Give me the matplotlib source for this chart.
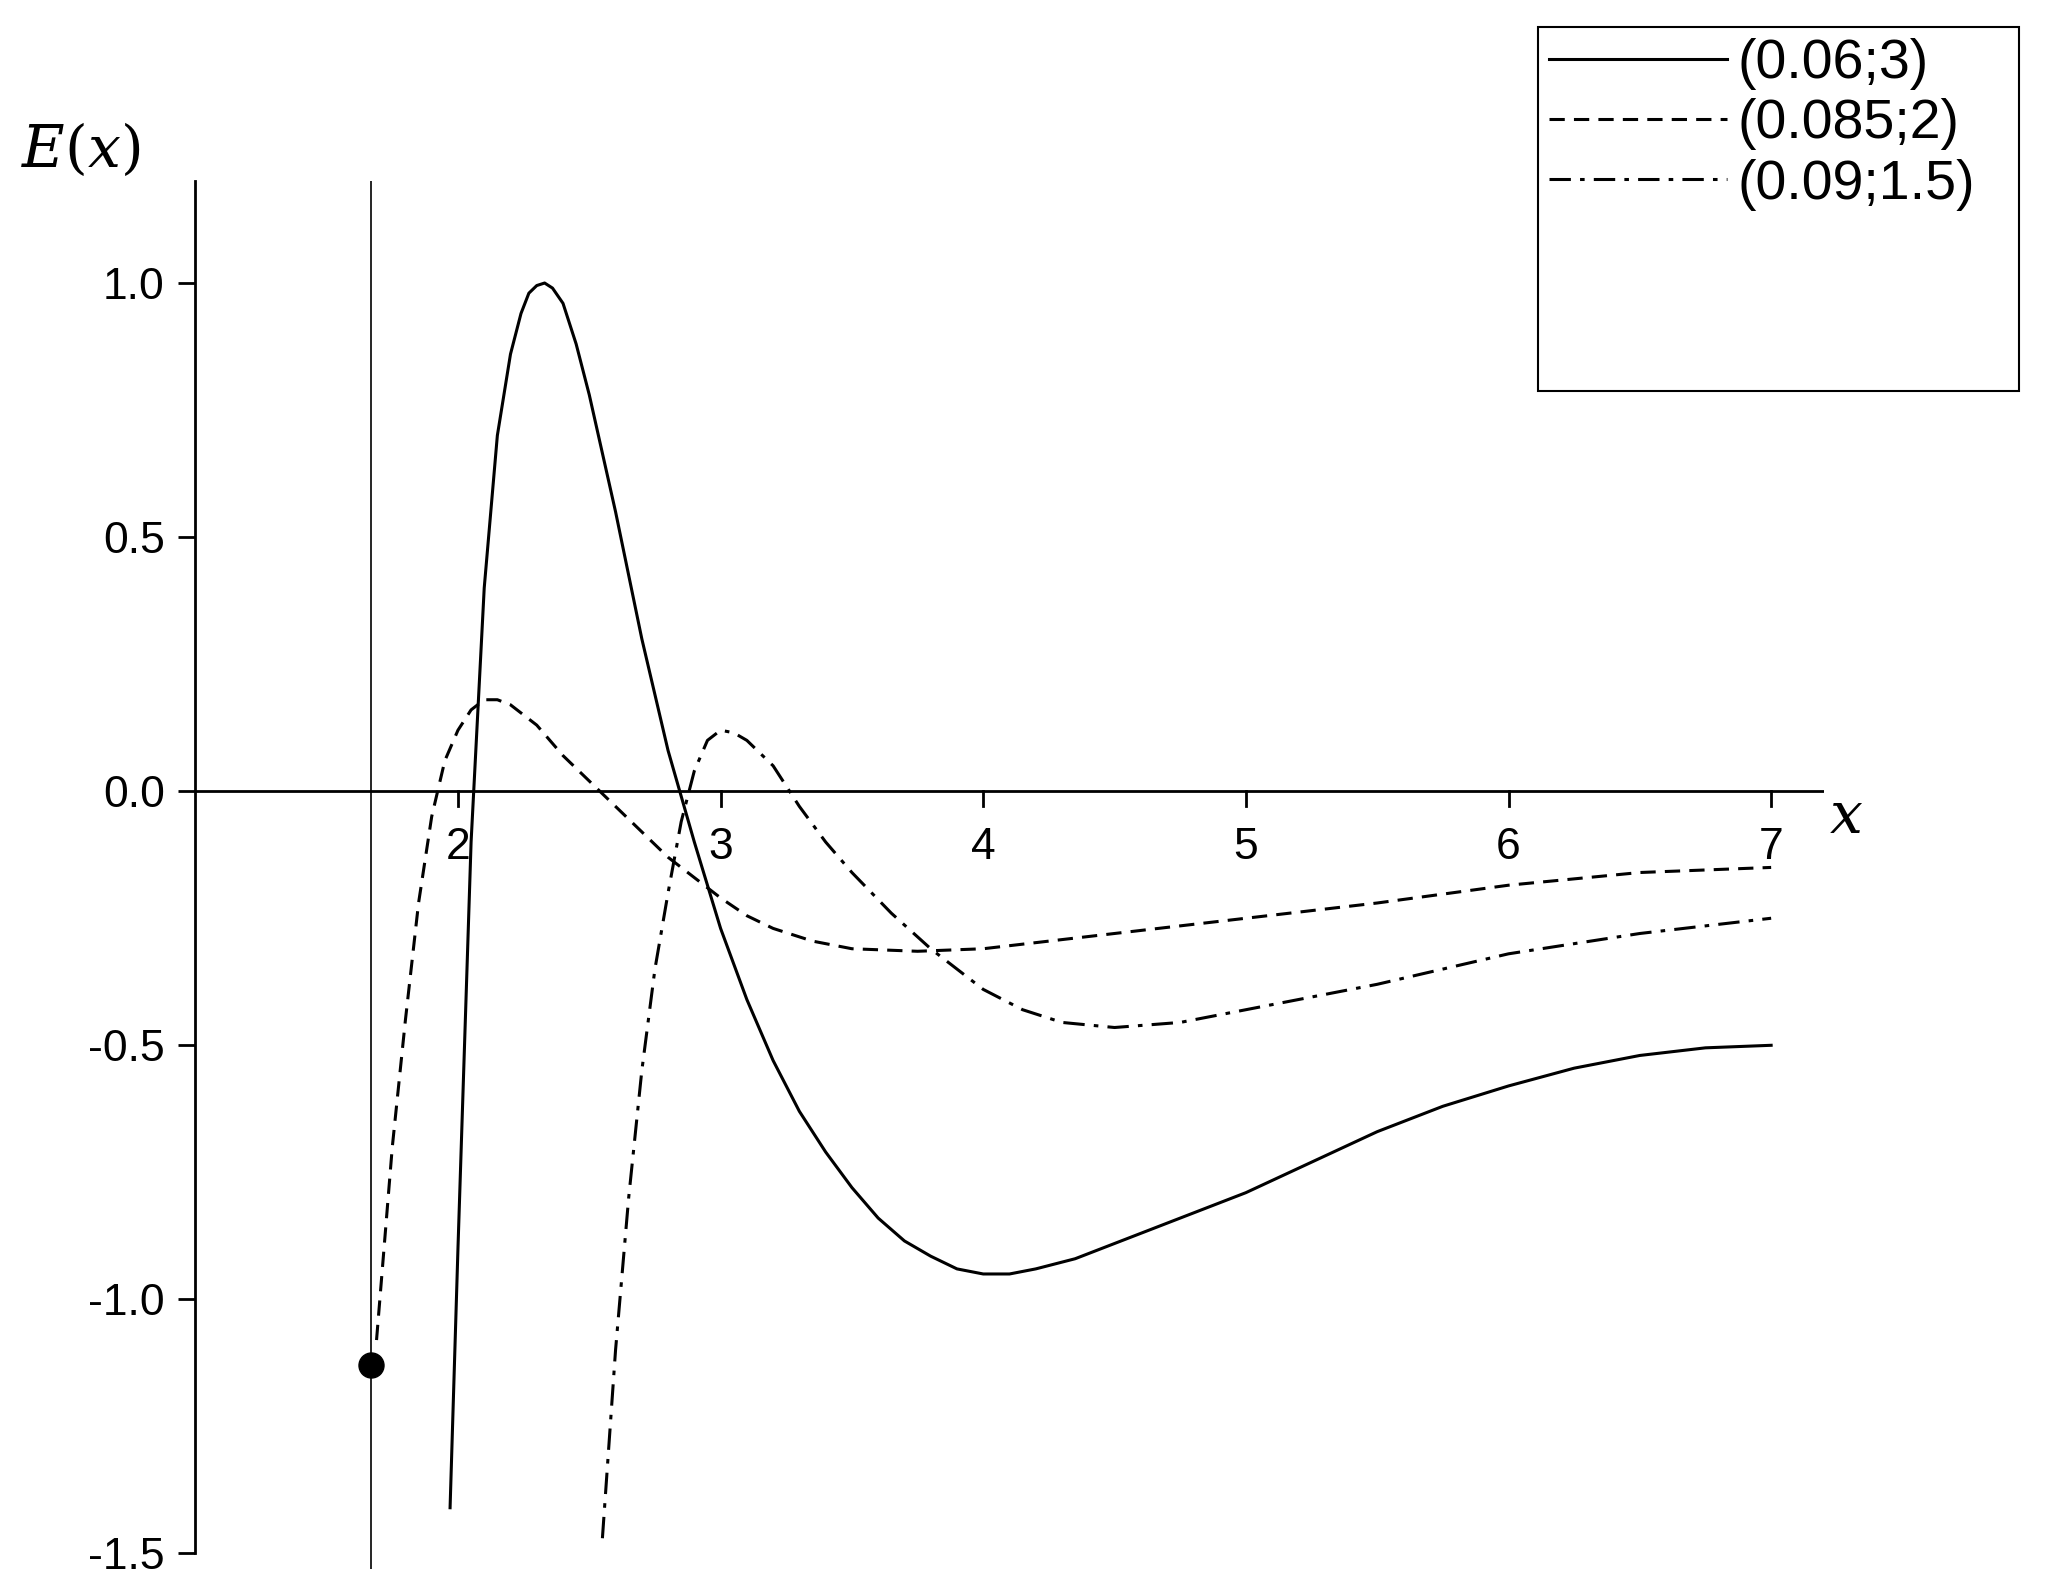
import matplotlib
matplotlib.use("Agg")
import matplotlib.pyplot as plt
from matplotlib.patches import Rectangle

x1 = [1.97, 2.0, 2.05, 2.1, 2.15, 2.2, 2.24, 2.27, 2.3, 2.33, 2.36, 2.4, 2.45, 2.5, 2.6, 2.7, 2.8, 2.9, 3.0, 3.1, 3.2, 3.3, 3.4, 3.5, 3.6, 3.7, 3.8, 3.9, 4.0, 4.1, 4.2, 4.35, 4.5, 4.75, 5.0, 5.25, 5.5, 5.75, 6.0, 6.25, 6.5, 6.75, 7.0]
y1 = [-1.41, -0.9, -0.1, 0.4, 0.7, 0.86, 0.94, 0.98, 0.995, 1.0, 0.99, 0.96, 0.88, 0.78, 0.55, 0.3, 0.08, -0.1, -0.27, -0.41, -0.53, -0.63, -0.71, -0.78, -0.84, -0.885, -0.915, -0.94, -0.95, -0.95, -0.94, -0.92, -0.89, -0.84, -0.79, -0.73, -0.67, -0.62, -0.58, -0.545, -0.52, -0.505, -0.50]
x2 = [1.69, 1.75, 1.8, 1.85, 1.9, 1.95, 2.0, 2.05, 2.1, 2.15, 2.2, 2.3, 2.4, 2.5, 2.6, 2.7, 2.8, 2.9, 3.0, 3.1, 3.2, 3.35, 3.5, 3.75, 4.0, 4.25, 4.5, 5.0, 5.5, 6.0, 6.5, 7.0]
y2 = [-1.08, -0.7, -0.45, -0.22, -0.05, 0.06, 0.12, 0.16, 0.18, 0.18, 0.17, 0.13, 0.07, 0.02, -0.03, -0.08, -0.13, -0.17, -0.21, -0.245, -0.27, -0.295, -0.31, -0.315, -0.31, -0.295, -0.28, -0.25, -0.22, -0.185, -0.16, -0.15]
x3 = [2.55, 2.6, 2.65, 2.7, 2.75, 2.8, 2.85, 2.9, 2.95, 3.0, 3.05, 3.1, 3.2, 3.3, 3.4, 3.5, 3.65, 3.8, 3.9, 4.0, 4.15, 4.3, 4.5, 4.75, 5.0, 5.5, 6.0, 6.5, 7.0]
y3 = [-1.47, -1.1, -0.8, -0.55, -0.35, -0.2, -0.06, 0.04, 0.1, 0.12, 0.115, 0.10, 0.05, -0.03, -0.1, -0.16, -0.24, -0.31, -0.35, -0.39, -0.43, -0.455, -0.465, -0.455, -0.43, -0.38, -0.32, -0.28, -0.25]
labels = ["(0.06;3)", "(0.085;2)", "(0.09;1.5)"]
xticks = [2, 3, 4, 5, 6, 7]
yticks = [-1.5, -1.0, -0.5, 0.0, 0.5, 1.0]
xv, yv = 1.67, -1.13

plt.rcParams['font.family'] = ['Liberation Sans', 'DejaVu Sans']
fig = plt.figure(figsize=(20.56, 15.91), dpi=100)
ax = fig.add_axes([0.095, 0.014, 0.792, 0.872])
ax.set_xlim(1.0, 7.2)
ax.set_ylim(-1.53, 1.2)
for s in ['top', 'right', 'bottom']:
    ax.spines[s].set_visible(False)
ax.spines['left'].set_linewidth(2)
ax.spines['left'].set_bounds(-1.5, 1.2)
ax.set_xticks([])
ax.set_yticks(yticks)
ax.set_yticklabels([f"{v:.1f}" for v in yticks])
ax.tick_params(axis='y', direction='out', length=12, width=2, labelsize=32, pad=10)

ax.plot([1.0, 7.2], [0, 0], color='black', lw=2)
for t in xticks:
    ax.plot([t, t], [0, -0.03], color='black', lw=2)
    ax.text(t, -0.07, str(t), ha='center', va='top', fontsize=32)
ax.axvline(xv, color='black', lw=1.2)
ax.plot([xv], [yv], 'o', color='black', ms=18)

l1, = ax.plot(x1, y1, color='black', lw=2.2, ls='-')
l2, = ax.plot(x2, y2, color='black', lw=2.2, ls=(0, (5, 3)))
l3, = ax.plot(x3, y3, color='black', lw=2.2, ls=(0, (7, 3, 1.5, 3)))

fig.text(0.01, 0.895, r"$E(x)$", fontsize=42, math_fontfamily='dejavuserif')
ax.text(7.22, 0.0, r"$x$", fontsize=42, va='top', math_fontfamily='dejavuserif')

fig.patches.append(Rectangle((0.748, 0.754), 0.234, 0.229, transform=fig.transFigure,
                             fill=False, edgecolor='black', lw=1.5))
leg = fig.legend([l1, l2, l3], labels, loc='upper left', bbox_to_anchor=(0.748, 0.983),
                 fontsize=40, frameon=False, handlelength=3.2, borderpad=0.2,
                 labelspacing=0.15, handletextpad=0.2, borderaxespad=0)
fig.savefig("out.png", dpi=100)
